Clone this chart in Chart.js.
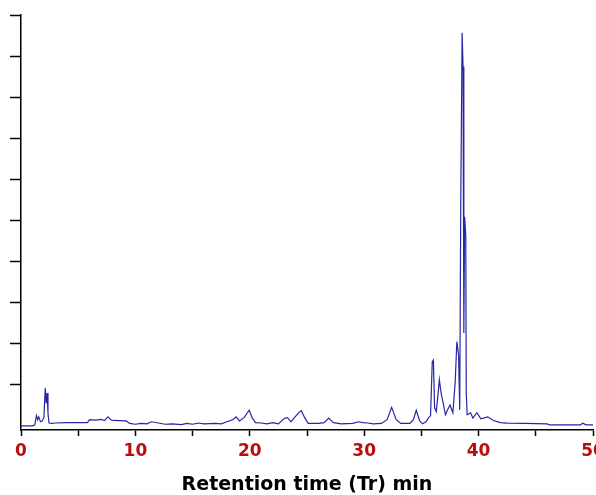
<!DOCTYPE html>
<html lang="en">
<head>
<meta charset="UTF-8" />
<title>Chromatogram</title>
<script src="https://cdn.jsdelivr.net/npm/chart.js"></script>
<style>
  html, body { margin: 0; padding: 0; background: #fff; }
  canvas { display: block; }
</style>
</head>
<body>
<canvas id="chrom" width="596" height="495"></canvas>
<script>
  // retention time (min) and detector response
  const retentionTime = [
    0, 1.0, 1.2, 1.35, 1.45, 1.55, 1.7, 1.85, 2.0, 2.12, 2.2, 2.28, 2.36, 2.45, 2.7, 3.0,
    4.0, 5.8, 6.0, 6.5, 7.0, 7.3, 7.6, 7.9, 8.5, 9.2, 9.5, 10.0, 10.5, 11.0, 11.4, 12.0,
    12.6, 13.2, 14.0, 14.5, 15.0, 15.5, 16.0, 17.0, 17.5, 18.0, 18.5, 18.8, 19.1, 19.5,
    19.95, 20.2, 20.5, 21.0, 21.5, 22.0, 22.5, 23.0, 23.3, 23.6, 23.9, 24.3, 24.5, 24.8,
    25.1, 26.0, 26.5, 26.9, 27.3, 28.0, 29.0, 29.5, 29.9, 30.3, 30.8, 31.5, 32.0, 32.4,
    32.8, 33.2, 34.0, 34.3, 34.55, 34.85, 35.1, 35.4, 35.6, 35.8, 35.95, 36.05, 36.15,
    36.3, 36.5, 36.57, 36.72, 36.9, 37.1, 37.3, 37.5, 37.75, 37.95, 38.1, 38.25, 38.35,
    38.44, 38.56, 38.64, 38.7, 38.72, 38.78, 38.88, 38.92, 39.0, 39.3, 39.5, 39.85, 40.2,
    40.8, 41.3, 41.9, 42.5, 44.0, 46.0, 46.2, 48.9, 49.1, 49.4, 50.0
  ];
  const response = [
    0, 0, 0.02, 0.25, 0.15, 0.22, 0.1, 0.12, 0.2, 0.92, 0.55, 0.8, 0.3, 0.07, 0.06, 0.07,
    0.08, 0.08, 0.15, 0.14, 0.16, 0.13, 0.22, 0.14, 0.13, 0.12, 0.06, 0.04, 0.06, 0.05, 0.1, 0.07,
    0.04, 0.05, 0.03, 0.06, 0.04, 0.07, 0.05, 0.06, 0.05, 0.1, 0.15, 0.22, 0.12, 0.2,
    0.38, 0.2, 0.08, 0.07, 0.05, 0.08, 0.05, 0.18, 0.2, 0.1, 0.2, 0.33, 0.37, 0.2,
    0.06, 0.06, 0.08, 0.19, 0.08, 0.05, 0.06, 0.1, 0.08, 0.07, 0.05, 0.06, 0.15, 0.45,
    0.15, 0.06, 0.06, 0.15, 0.38, 0.12, 0.05, 0.1, 0.19, 0.25, 1.56, 1.6, 0.45,
    0.35, 0.9, 1.12, 0.8, 0.56, 0.27, 0.4, 0.51, 0.32, 1.05, 2.05, 1.73, 0.39,
    5.42, 9.57, 8.74, 5.5, 2.26, 5.09, 4.6, 0.8, 0.27, 0.32, 0.19, 0.32, 0.17,
    0.22, 0.13, 0.08, 0.065, 0.06, 0.05, 0.025, 0.025, 0.065, 0.025, 0.025
  ];
  const xTickLabels = ['0', '10', '20', '30', '40', '50'];
  const xTitle = 'Retention time (Tr) min';

  const points = retentionTime.map((t, i) => ({ x: t, y: response[i] }));

  new Chart(document.getElementById('chrom'), {
    type: 'line',
    data: {
      datasets: [{
        data: points,
        borderColor: '#2626a6',
        borderWidth: 1.2,
        pointRadius: 0,
        tension: 0,
        fill: false
      }]
    },
    options: {
      responsive: false,
      animation: false,
      layout: { padding: { top: 15, right: 3, left: 0, bottom: 0 } },
      plugins: { legend: { display: false }, tooltip: { enabled: false } },
      scales: {
        x: {
          type: 'linear',
          min: 0,
          max: 50,
          afterFit: s => { s.height = 65; s.paddingLeft = 0; s.paddingRight = 0; },
          border: { color: '#000', width: 1.5 },
          grid: { drawOnChartArea: false, tickLength: 6, color: '#000', tickWidth: 1.5 },
          ticks: {
            stepSize: 5,
            maxRotation: 0,
            autoSkip: false,
            padding: 5,
            color: '#b80e0e',
            font: { family: 'DejaVu Sans', size: 17, weight: 'bold' },
            callback: v => (v % 10 === 0 ? xTickLabels[v / 10] : '')
          },
          title: {
            display: true,
            text: xTitle,
            color: '#000',
            font: { family: 'DejaVu Sans', size: 19, weight: 'bold', lineHeight: 1 },
            padding: { top: 0, bottom: 0 }
          }
        },
        y: {
          min: -0.1,
          max: 10,
          afterFit: s => { s.width = 21; },
          afterBuildTicks: s => { s.ticks = s.ticks.filter(t => t.value >= 0); },
          border: { color: '#000', width: 1.5 },
          grid: { drawOnChartArea: false, tickLength: 11, color: '#000', tickWidth: 1.5 },
          ticks: { stepSize: 1, callback: () => '' }
        }
      }
    }
  });
</script>
</body>
</html>
